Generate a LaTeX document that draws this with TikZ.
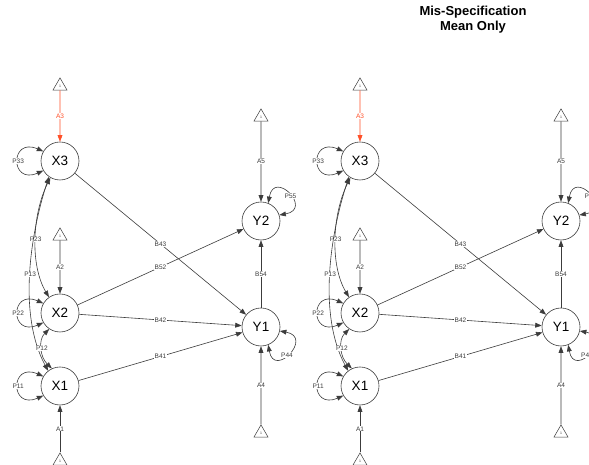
\documentclass[tikz,border=0pt]{standalone}
\usepackage{fontspec}
\setmainfont{Liberation Sans}
\usetikzlibrary{arrows.meta,shapes.geometric}

\definecolor{edgegray}{RGB}{60,60,60}
\definecolor{labelgray}{RGB}{60,60,60}
\definecolor{meanred}{RGB}{255,80,40}

\tikzset{
  lat/.style={circle, draw=edgegray, line width=0.6pt, minimum size=38pt, inner sep=0pt,
              font=\fontsize{13.5}{15}\selectfont},
  cst/.style={regular polygon, regular polygon sides=3, draw=edgegray, line width=0.5pt,
              minimum size=16.2pt, inner sep=0pt, font=\fontsize{3.5}{4}\selectfont, text=labelgray},
  tip/.tip={Triangle[length=6.5pt,width=4.8pt]},
  reg/.style={draw=edgegray, line width=0.6pt, -tip},
  cov/.style={draw=edgegray, line width=0.6pt, tip-tip},
  lbl/.style={fill=white, inner sep=0.4pt, text=labelgray, font=\fontsize{6.5}{7}\selectfont},
}

% one path diagram; node names get the scope's prefix
\newcommand\drawsempanel{%
  \node[lat] (X3) at (60,304) {X3};
  \node[lat] (X2) at (60,152) {X2};
  \node[lat] (X1) at (60,79)  {X1};
  \node[lat] (Y2) at (261,244) {Y2};
  \node[lat] (Y1) at (261,138) {Y1};
  \node[cst] (T3) at (60,379) {1};
  \node[cst] (T2) at (60,229) {1};
  \node[cst] (T1) at (60,4)   {1};
  \node[cst] (T5) at (261,348) {1};
  \node[cst] (T4) at (261,32)  {1};
  % means
  \draw[reg, draw=meanred] (T3) -- node[lbl, text=meanred] {A3} (X3);
  \draw[reg] (T2) -- node[lbl] {A2} (X2);
  \draw[reg] (T1) -- node[lbl] {A1} (X1);
  \draw[reg] (T5) -- node[lbl] {A5} (Y2);
  \draw[reg] (T4) -- node[lbl] {A4} (Y1);
  % regressions
  \draw[reg] (X3) -- node[lbl] {B43} (Y1);
  \draw[reg] (X2) -- node[lbl] {B52} (Y2);
  \draw[reg] (X2) -- node[lbl] {B42} (Y1);
  \draw[reg] (X1) -- node[lbl] {B41} (Y1);
  \draw[reg] (Y1) -- node[lbl] {B54} (Y2);
  % variances
  \draw[cov] (X3.150) .. controls +(-33.5,14.5) and +(-33.5,-14.5) .. node[lbl] {P33} (X3.210);
  \draw[cov] (X2.150) .. controls +(-33.5,14.5) and +(-33.5,-14.5) .. node[lbl] {P22} (X2.210);
  \draw[cov] (X1.150) .. controls +(-33.5,14.5) and +(-33.5,-14.5) .. node[lbl] {P11} (X1.210);
  \draw[cov] (Y2.68) .. controls +(6,34) and +(34,6) .. node[lbl, pos=0.55] {P55} (Y2.18);
  \draw[cov] (Y1.348) .. controls +(34,-6) and +(6,-34) .. node[lbl, pos=0.55] {P44} (Y1.292);
  % covariances among the X's
  \draw[cov] (X3.240) .. controls (32,250) and (30,200) .. node[lbl] {P23} (X2.125);
  \draw[cov] (X3.235) .. controls (30,230) and (18,150) .. node[lbl] {P13} (X1.128);
  \draw[cov] (X2.236) .. controls (38,125) and (40,108) .. node[lbl] {P12} (X1.115);
}

\begin{document}
\begin{tikzpicture}[x=1pt, y=1pt]
  \useasboundingbox (0,0) rectangle (589,465);
  \clip (0,0) rectangle (589,465);
  \fill[white] (0,0) rectangle (589,465);

  \node[font=\bfseries\fontsize{13}{15}\selectfont, align=center] (title) at (473,445)
    {Mis-Specification\\Mean Only};

  \begin{scope}[name prefix=L-]
    \drawsempanel
  \end{scope}
  \begin{scope}[xshift=300pt, name prefix=R-]
    \drawsempanel
  \end{scope}
\end{tikzpicture}
\end{document}
